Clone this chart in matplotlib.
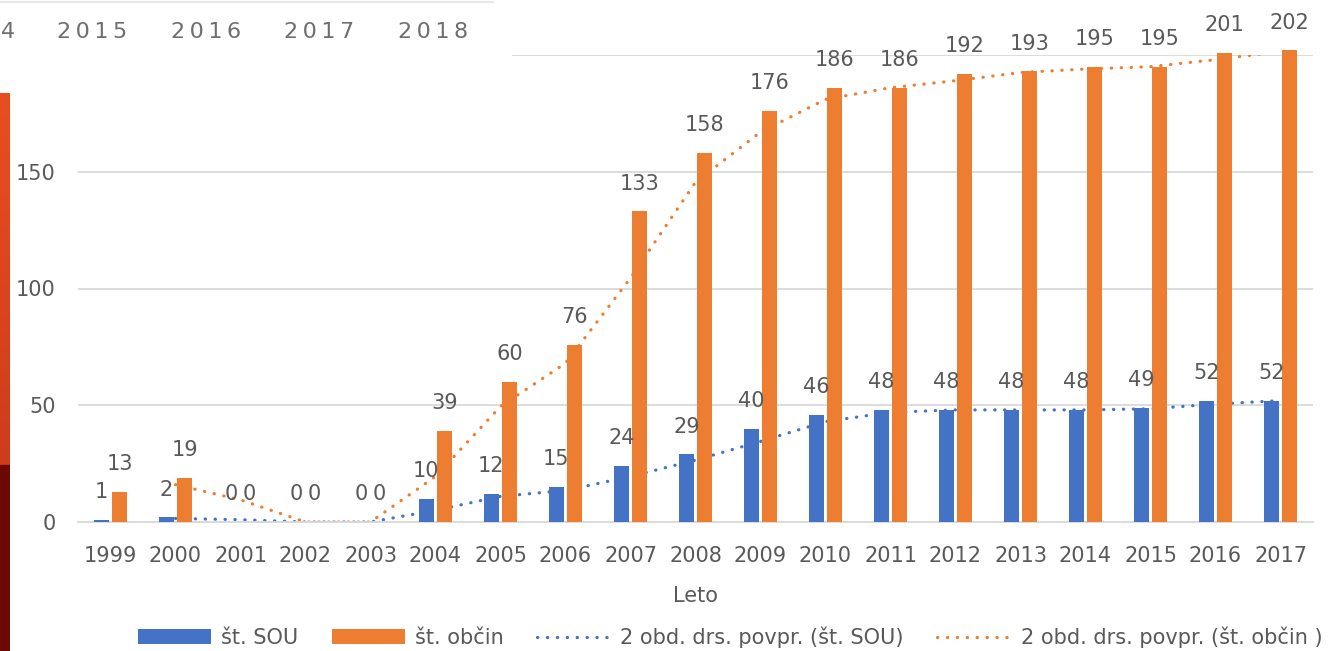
import numpy as np
import pandas as pd
import matplotlib
matplotlib.use("Agg")
import matplotlib.pyplot as plt
from matplotlib.patches import Patch, Rectangle
from matplotlib.lines import Line2D

# data
years = [str(y) for y in range(1999, 2018)]
st_sou = [1, 2, 0, 0, 0, 10, 12, 15, 24, 29, 40, 46, 48, 48, 48, 48, 49, 52, 52]
st_obcin = [13, 19, 0, 0, 0, 39, 60, 76, 133, 158, 176, 186, 186, 192, 193, 195, 195, 201, 202]
y_ticks = [0, 50, 100, 150, 200]
top_labels = ['4', '2015', '2016', '2017', '2018']

# 2-period moving average trendlines, as in the Excel chart
ma_sou = pd.Series(st_sou).rolling(2).mean()
ma_obcin = pd.Series(st_obcin).rolling(2).mean()

BLUE = '#4472C4'
ORANGE = '#ED7D31'
TXT = '#595959'
GRID = '#D9D9D9'
FS = 15

plt.rcParams['font.family'] = ['DejaVu Sans']

W, H = 1332, 651
fig = plt.figure(figsize=(W / 100, H / 100), dpi=100)
ax = fig.add_axes([78 / W, 1 - 522 / H, (1313 - 78) / W, (522 - 55) / H])

x = np.arange(len(years))
bw = 0.24
off = 0.14

# trendlines sit behind the bars
dots = (0, (0.1, 3.0))
ax.plot(x, ma_sou, color=BLUE, lw=2.3, linestyle=dots, dash_capstyle='round', zorder=2)
ax.plot(x, ma_obcin, color=ORANGE, lw=2.3, linestyle=dots, dash_capstyle='round', zorder=2)

b1 = ax.bar(x - off, st_sou, width=bw, color=BLUE, zorder=3, clip_on=False)
b2 = ax.bar(x + off, st_obcin, width=bw, color=ORANGE, zorder=3, clip_on=False)

for bars, vals in ((b1, st_sou), (b2, st_obcin)):
    for r, v in zip(bars, vals):
        ax.annotate(str(v), (r.get_x() + r.get_width() / 2, v), xytext=(0, 20),
                    textcoords='offset points', ha='center', va='center',
                    fontsize=FS, color=TXT, zorder=5, annotation_clip=False)

ax.set_xlim(-0.5, len(years) - 0.5)
ax.set_ylim(0, 200)
ax.set_yticks(y_ticks)
ax.set_xticks(x)
ax.set_xticklabels(years)
ax.tick_params(axis='both', length=0, labelsize=FS, labelcolor=TXT)
ax.tick_params(axis='y', pad=16)
ax.tick_params(axis='x', pad=17)
ax.grid(axis='y', color=GRID, lw=1.3, zorder=0)
ax.set_axisbelow(True)
for s in ['top', 'right', 'left']:
    ax.spines[s].set_visible(False)
ax.spines['bottom'].set_color(GRID)
ax.spines['bottom'].set_linewidth(1.3)
ax.set_xlabel('Leto', fontsize=FS, color=TXT, labelpad=15)

handles = [
    Patch(facecolor=BLUE, label='št. SOU'),
    Patch(facecolor=ORANGE, label='št. občin'),
    Line2D([], [], color=BLUE, lw=2.3, linestyle=dots, dash_capstyle='round',
           label='2 obd. drs. povpr. (št. SOU)'),
    Line2D([], [], color=ORANGE, lw=2.3, linestyle=dots, dash_capstyle='round',
           label='2 obd. drs. povpr. (št. občin )'),
]
leg = fig.legend(handles=handles, loc='center', bbox_to_anchor=(730 / W, 1 - 637 / H),
                 ncol=4, frameon=False, fontsize=FS, handlelength=3.5, handleheight=0.68,
                 handletextpad=0.5, columnspacing=1.6, labelcolor=TXT)

# screenshot leftovers: white panel with year strip at top-left
fig.patches.append(Rectangle((0, 1 - 72 / H), 512 / W, 72 / H, transform=fig.transFigure,
                             facecolor='white', edgecolor='none', zorder=10))
fig.add_artist(Line2D([0, 493 / W], [1 - 1.5 / H, 1 - 1.5 / H], color='#E8E8E8', lw=1.5,
                      transform=fig.transFigure, zorder=11))
fig.text(1 / W, 1 - 32 / H, top_labels[0], ha='left', va='center',
         fontsize=16, color='#6E6E6E', zorder=12)
for i, t in enumerate(top_labels[1:]):
    fig.text((92 + i * 113.7) / W, 1 - 32 / H, '\u2009'.join(t), ha='center', va='center',
             fontsize=16, color='#6E6E6E', zorder=12)

# red side strip on the left edge
strip = fig.add_axes([0, 0, 10 / W, 1 - 93 / H], zorder=12)
grad = np.linspace(0, 1, 200).reshape(-1, 1)
cmap = matplotlib.colors.LinearSegmentedColormap.from_list('s', ['#CF3C1C', '#E84E20'])
strip.imshow(grad, aspect='auto', cmap=cmap, origin='lower',
             extent=[0, 1, (651 - 465) / H, 1 - 93 / H])
strip.add_patch(Rectangle((0, 0), 1, (651 - 465) / H, color='#6B0900'))
strip.set_xlim(0, 1)
strip.set_ylim(0, 1 - 93 / H)
strip.axis('off')

fig.savefig('out.png', dpi=100)
